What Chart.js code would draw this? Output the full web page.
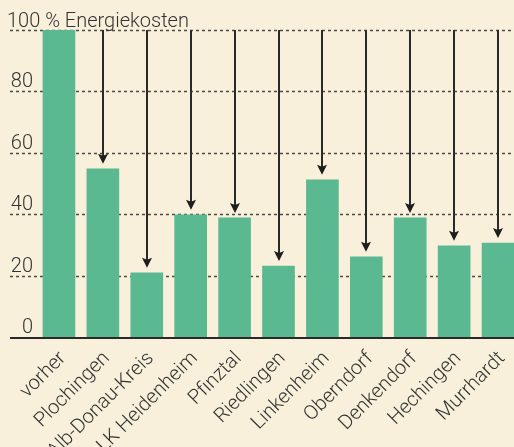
<!DOCTYPE html>
<html>
<head>
<meta charset="utf-8">
<script src="https://cdn.jsdelivr.net/npm/chart.js@4"></script>
<style>
  html, body { margin: 0; padding: 0; background: #f8f0da; overflow: hidden; }
  canvas { display: block; }
</style>
</head>
<body>
<!-- canvas a bit wider than the window: the last bar touches the right edge -->
<canvas id="chart" width="520" height="447"></canvas>
<script>
const places = ["vorher", "Plochingen", "Alb-Donau-Kreis", "LK Heidenheim", "Pfinztal", "Riedlingen",
  "Linkenheim", "Oberndorf", "Denkendorf", "Hechingen", "Murrhardt"];
const costs = [100, 54.8, 20.9, 39.8, 38.8, 23.1, 51.2, 26.1, 38.8, 29.7, 30.6];
const yTicks = [0, 20, 40, 60, 80, 100];
const yTitle = "100 % Energiekosten";

const textColor = "#333333";
const font = "300 20px Roboto";

// dashed gridlines + y labels behind the bars, axis line + arrows on top
const decor = {
  id: "decor",
  beforeDatasetsDraw(chart) {
    const ctx = chart.ctx;
    const y = chart.scales.y;
    ctx.save();
    ctx.strokeStyle = "#4a4a4a";
    ctx.lineWidth = 1.5;
    ctx.setLineDash([3, 3]);
    ctx.font = font;
    ctx.fillStyle = textColor;
    ctx.textBaseline = "alphabetic";
    yTicks.forEach(v => {
      const py = Math.round(y.getPixelForValue(v)) + 0.5;
      if (v > 0) {
        ctx.beginPath();
        ctx.moveTo(10, py);
        ctx.lineTo(chart.width, py);
        ctx.stroke();
      }
      if (v === 100) {
        ctx.textAlign = "left";
        ctx.fillText(yTitle, 7, py - 4);
      } else {
        ctx.textAlign = "right";
        ctx.fillText(String(v), 33, py - 4.5);
      }
    });
    ctx.restore();
  },
  afterDatasetsDraw(chart) {
    const ctx = chart.ctx;
    const y = chart.scales.y;
    const bars = chart.getDatasetMeta(0).data;
    ctx.save();
    // x axis line
    ctx.strokeStyle = "#2a2a2a";
    ctx.lineWidth = 2;
    ctx.beginPath();
    ctx.moveTo(10, y.getPixelForValue(0) + 1);
    ctx.lineTo(chart.width, y.getPixelForValue(0) + 1);
    ctx.stroke();
    // arrows from 100 down to each bar
    const top = y.getPixelForValue(100);
    ctx.fillStyle = "#1e1e1e";
    bars.forEach((bar, i) => {
      if (i === 0) return;
      const x = Math.round(bar.x);
      const tip = bar.y - 5;
      ctx.beginPath();
      ctx.moveTo(x, top);
      ctx.lineTo(x, tip - 6);
      ctx.stroke();
      ctx.beginPath();
      ctx.moveTo(x, tip);
      ctx.lineTo(x - 5, tip - 10);
      ctx.lineTo(x, tip - 8);
      ctx.lineTo(x + 5, tip - 10);
      ctx.closePath();
      ctx.fill();
    });
    ctx.restore();
  }
};

new Chart(document.getElementById("chart"), {
  type: "bar",
  data: {
    labels: places,
    datasets: [{
      data: costs,
      backgroundColor: "#5bb991",
      barThickness: 32
    }]
  },
  options: {
    responsive: false,
    animation: false,
    layout: { padding: { top: 30, left: 37, right: 0, bottom: 0 } },
    plugins: { legend: { display: false }, tooltip: { enabled: false } },
    scales: {
      y: { display: false, min: 0, max: 100 },
      x: {
        grid: { display: false },
        border: { display: false },
        ticks: {
          minRotation: 45,
          maxRotation: 45,
          autoSkip: false,
          padding: 2,
          labelOffset: 4,
          color: textColor,
          font: { family: "Roboto", size: 20, weight: "300" }
        },
        afterFit(scale) { scale.height = 110; }
      }
    }
  },
  plugins: [decor]
});
</script>
</body>
</html>
